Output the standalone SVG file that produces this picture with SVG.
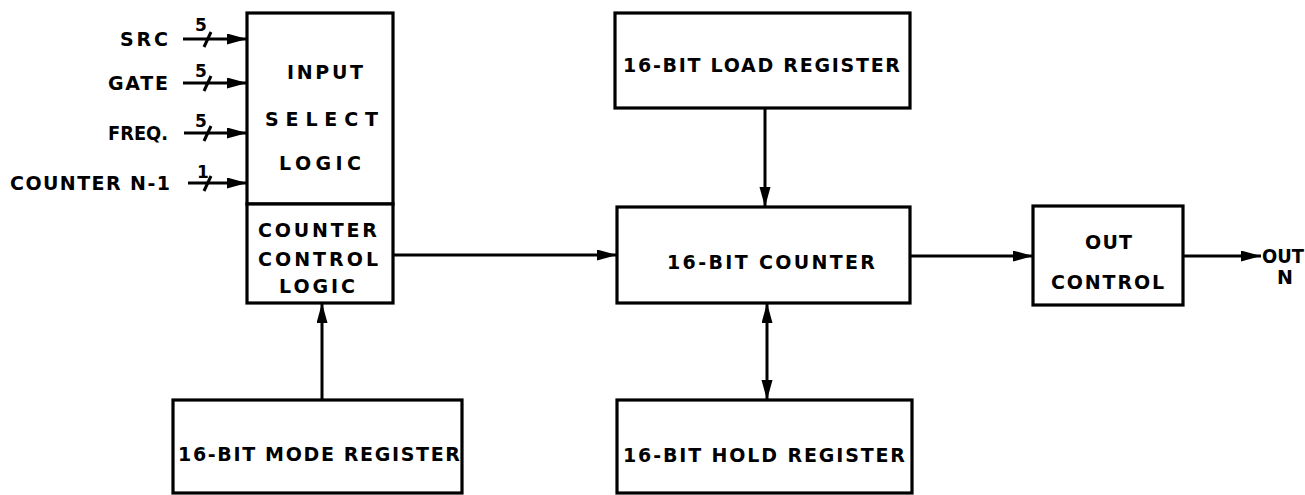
<svg xmlns="http://www.w3.org/2000/svg" width="1305" height="495" viewBox="0 0 1305 495">
<style>
.box{fill:#fff;stroke:#000;stroke-width:3.2}
.t{font-family:"DejaVu Sans","Liberation Sans",Arial,sans-serif;font-weight:bold;font-size:19px;fill:#000}
.n{font-family:"DejaVu Sans","Liberation Sans",Arial,sans-serif;font-weight:bold;font-size:17px;fill:#000}
.w{stroke:#000;stroke-width:3;fill:none}
</style>
<defs>
<marker id="ah" markerUnits="userSpaceOnUse" markerWidth="21" markerHeight="12" refX="20" refY="5.5" orient="auto-start-reverse">
<path d="M0,0 L20,5.5 L0,11 z" fill="#000"/>
</marker>
</defs>
<rect width="1305" height="495" fill="#fff"/>

<g id="connectors">
<line class="w" x1="183" y1="39" x2="247" y2="39" marker-end="url(#ah)"/>
<line class="w" x1="183" y1="83" x2="247" y2="83" marker-end="url(#ah)"/>
<line class="w" x1="184" y1="133" x2="247" y2="133" marker-end="url(#ah)"/>
<line class="w" x1="188" y1="183" x2="247" y2="183" marker-end="url(#ah)"/>
<line class="w" x1="204" y1="47" x2="211" y2="32"/>
<line class="w" x1="204" y1="91" x2="211" y2="76"/>
<line class="w" x1="204" y1="141" x2="211" y2="126"/>
<line class="w" x1="204" y1="191" x2="211" y2="176"/>
<text class="n" x="195" y="31">5</text>
<text class="n" x="195" y="77">5</text>
<text class="n" x="195" y="127">5</text>
<text class="n" x="197" y="178">1</text>
<line class="w" x1="393" y1="255" x2="617" y2="255" marker-end="url(#ah)"/>
<line class="w" x1="765" y1="108" x2="765" y2="207" marker-end="url(#ah)"/>
<line class="w" x1="322" y1="400" x2="322" y2="303" marker-end="url(#ah)"/>
<line class="w" x1="767" y1="303" x2="767" y2="400" marker-start="url(#ah)" marker-end="url(#ah)"/>
<line class="w" x1="910" y1="256" x2="1033" y2="256" marker-end="url(#ah)"/>
<line class="w" x1="1183" y1="256" x2="1261" y2="256" marker-end="url(#ah)"/>
</g>

<g id="inputs">
<text class="t" x="120" y="46" textLength="48" lengthAdjust="spacing">SRC</text>
<text class="t" x="108" y="90" textLength="60" lengthAdjust="spacing">GATE</text>
<text class="t" x="108" y="140" textLength="60" lengthAdjust="spacingAndGlyphs">FREQ.</text>
<text class="t" x="10" y="190" textLength="160" lengthAdjust="spacing">COUNTER N-1</text>
</g>

<g id="input-select-logic">
<rect class="box" x="247" y="13" width="146" height="191"/>
<text class="t" x="287" y="79" textLength="76" lengthAdjust="spacing">INPUT</text>
<text class="t" x="265" y="126" textLength="113" lengthAdjust="spacing">SELECT</text>
<text class="t" x="279" y="170" textLength="82" lengthAdjust="spacing">LOGIC</text>
</g>

<g id="counter-control-logic">
<rect class="box" x="247" y="204" width="146" height="99"/>
<text class="t" x="258" y="237" textLength="119" lengthAdjust="spacing">COUNTER</text>
<text class="t" x="258" y="266" textLength="120" lengthAdjust="spacing">CONTROL</text>
<text class="t" x="279" y="293" textLength="76" lengthAdjust="spacing">LOGIC</text>
</g>

<g id="load-register">
<rect class="box" x="615" y="13" width="295" height="95"/>
<text class="t" x="623" y="72" textLength="277" lengthAdjust="spacing">16-BIT LOAD REGISTER</text>
</g>

<g id="counter">
<rect class="box" x="617" y="207" width="293" height="96"/>
<text class="t" x="667" y="269" textLength="208" lengthAdjust="spacing">16-BIT COUNTER</text>
</g>

<g id="out-control">
<rect class="box" x="1033" y="206" width="150" height="99"/>
<text class="t" x="1085" y="249" textLength="47" lengthAdjust="spacing">OUT</text>
<text class="t" x="1051" y="289" textLength="113" lengthAdjust="spacing">CONTROL</text>
</g>

<g id="out-n">
<text class="t" x="1262" y="263" textLength="42" lengthAdjust="spacingAndGlyphs">OUT</text>
<text class="t" x="1277" y="284">N</text>
</g>

<g id="mode-register">
<rect class="box" x="173" y="400" width="289" height="93"/>
<text class="t" x="178" y="461" textLength="282" lengthAdjust="spacing">16-BIT MODE REGISTER</text>
</g>

<g id="hold-register">
<rect class="box" x="617" y="400" width="295" height="93"/>
<text class="t" x="623" y="462" textLength="282" lengthAdjust="spacing">16-BIT HOLD REGISTER</text>
</g>
</svg>
